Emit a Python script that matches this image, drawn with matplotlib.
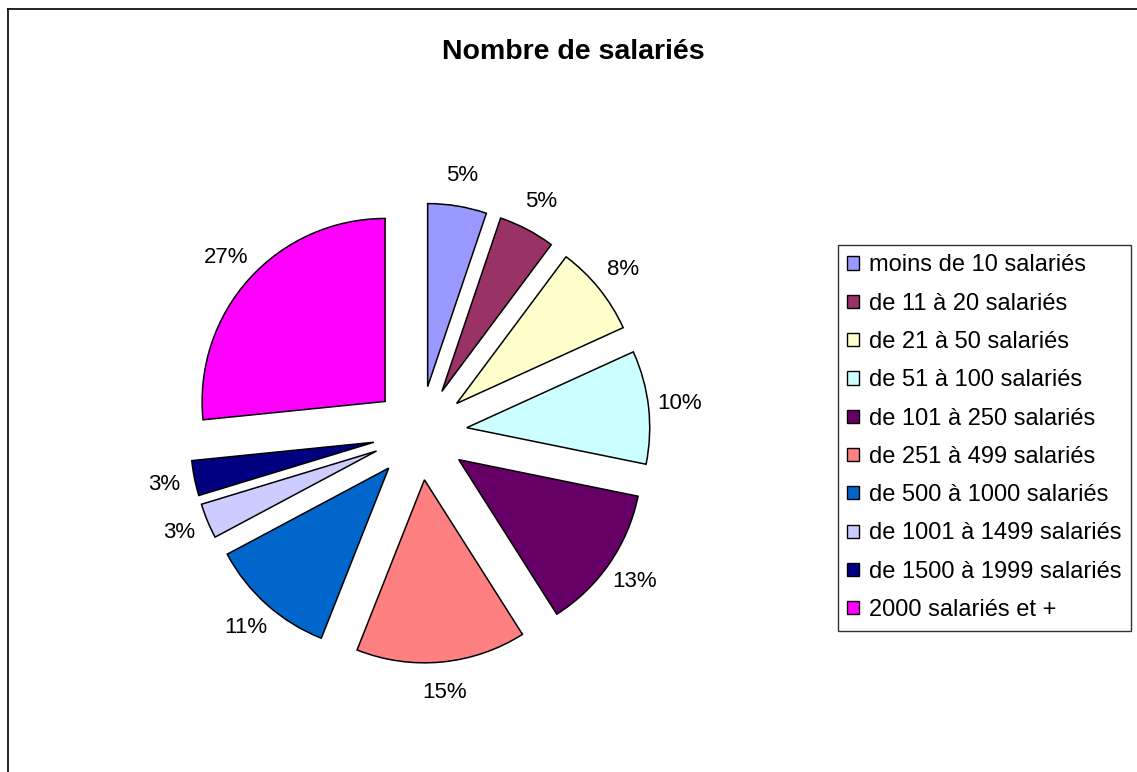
import matplotlib
matplotlib.use('Agg')
import matplotlib.pyplot as plt
from matplotlib.patches import Patch
from matplotlib.lines import Line2D

categories = ['moins de 10 salariés', 'de 11 à 20 salariés', 'de 21 à 50 salariés',
              'de 51 à 100 salariés', 'de 101 à 250 salariés', 'de 251 à 499 salariés',
              'de 500 à 1000 salariés', 'de 1001 à 1499 salariés', 'de 1500 à 1999 salariés',
              '2000 salariés et +']
values = [5.2, 5.0, 8.0, 10.0, 12.8, 15.0, 11.2, 3.1, 3.1, 26.6]
colors = ['#9999FF', '#993366', '#FFFFCC', '#CCFFFF', '#660066', '#FF8080',
          '#0066CC', '#CCCCFF', '#000080', '#FF00FF']
title = 'Nombre de salariés'

plt.rcParams['font.family'] = ['Liberation Sans', 'DejaVu Sans']

W, H = 1137, 772
fig = plt.figure(figsize=(W / 100, H / 100), dpi=100)
fig.patch.set_facecolor('white')

cx, cy, R = 420, 433, 183
L = 1.6
side = 2 * L * R
ax = fig.add_axes([(cx - side / 2) / W, (H - cy - side / 2) / H, side / W, side / H])
wedges, texts, autotexts = ax.pie(
    values, colors=colors, explode=[0.257] * len(values), startangle=90,
    counterclock=False, autopct=lambda p: f'{p:.0f}%', pctdistance=1.17,
    wedgeprops=dict(edgecolor='black', linewidth=1.1),
    textprops=dict(fontsize=16, color='black'))
ax.set_xlim(-L, L)
ax.set_ylim(-L, L)
ax.set_aspect('equal')
ax.axis('off')

# chart area border (left and top visible)
fig.add_artist(Line2D([7.5 / W, 7.5 / W], [0, 1 - 8.5 / H], color='black', lw=1.2,
                      transform=fig.transFigure))
fig.add_artist(Line2D([7.5 / W, 1], [1 - 8.5 / H, 1 - 8.5 / H], color='black', lw=1.2,
                      transform=fig.transFigure))

fig.text(573 / W, 1 - 52 / H, title, ha='center', va='center',
         fontsize=20.5, fontweight='bold')

handles = [Patch(facecolor=c, edgecolor='black', linewidth=1.0) for c in colors]
leg = fig.legend(handles, categories, loc='upper left',
                 bbox_to_anchor=(838 / W, 1 - 245 / H), borderaxespad=0,
                 fontsize=17, frameon=True, fancybox=False, shadow=False,
                 edgecolor='black', handlelength=0.48, handleheight=0.48,
                 handletextpad=0.45, labelspacing=0.69, borderpad=0.4)
leg.get_frame().set_linewidth(1.0)

fig.savefig('out.png', dpi=100, facecolor='white')
